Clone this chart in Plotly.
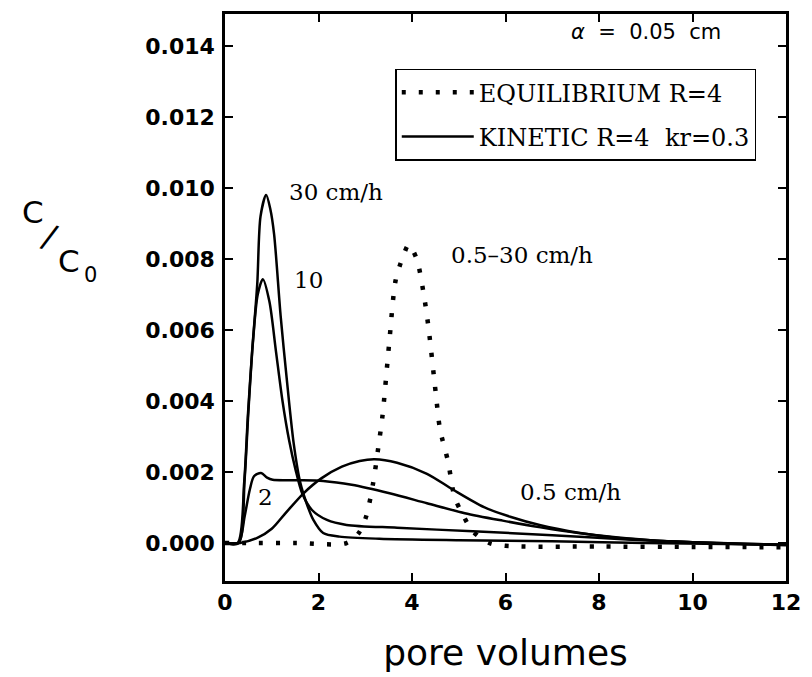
import plotly.graph_objects as go

# ---- data ----
eq_x = [0, 0.7, 1.5, 2.6, 2.86, 3.02, 3.17, 3.28, 3.37, 3.51, 3.65, 3.79, 3.93, 4.1, 4.24, 4.35, 4.51, 4.6, 4.77, 4.91, 5.07, 5.3, 5.65, 6.0, 8.0, 10.0, 12.0]
eq_y = [0, 0, 0, 0, 0.00028, 0.00075, 0.0017, 0.0027, 0.0036, 0.0056, 0.0074, 0.0080, 0.0084, 0.0080, 0.0071, 0.0061, 0.0042, 0.0032, 0.0023, 0.0013, 0.00084, 0.00033, 0.0, -0.00008, -0.0001, -0.00011, -0.00012]

k30_x = [0, 0.27, 0.41, 0.49, 0.58, 0.69, 0.76, 0.88, 0.97, 1.05, 1.19, 1.33, 1.47, 1.61, 1.75, 1.89, 2.1, 2.45, 3.3, 5.0, 7.0, 9.0, 12.0]
k30_y = [0, 0, 0.0017, 0.0036, 0.0054, 0.0073, 0.0092, 0.0098, 0.0094, 0.0087, 0.0064, 0.0045, 0.0028, 0.0017, 0.0011, 0.00065, 0.00028, 0.00018, 0.00012, 0.00008, 0.00005, 0.0, -0.00005]

k10_x = [0, 0.29, 0.42, 0.5, 0.6, 0.7, 0.81, 0.95, 1.09, 1.23, 1.37, 1.51, 1.65, 1.86, 2.18, 2.6, 3.68, 5.3, 7.0, 8.6, 10.0, 12.0]
k10_y = [0, 0, 0.0018, 0.0037, 0.0057, 0.0070, 0.00743, 0.0068, 0.0054, 0.0040, 0.0029, 0.00206, 0.0014, 0.00093, 0.00065, 0.00051, 0.00043, 0.00033, 0.00022, 0.0001, 0.00002, -0.00005]

k2_x = [0, 0.29, 0.42, 0.53, 0.62, 0.77, 0.9, 1.02, 1.54, 2.1, 2.71, 3.52, 4.32, 5.13, 5.94, 6.75, 7.56, 8.36, 9.17, 10.0, 11.0, 12.0]
k2_y = [0, 0, 0.00075, 0.0015, 0.00188, 0.00197, 0.00184, 0.00178, 0.00177, 0.00175, 0.00164, 0.0014, 0.00112, 0.00084, 0.00063, 0.00044, 0.00028, 0.00016, 0.00007, 0.00002, -0.00002, -0.00005]

k05_x = [0, 0.32, 0.7, 1.0, 1.3, 1.68, 2.06, 2.5, 2.88, 3.2, 3.68, 4.32, 4.88, 5.54, 6.1, 6.75, 7.56, 8.36, 9.17, 10.0, 11.0, 12.0]
k05_y = [0, 0, 0.00015, 0.0004, 0.00085, 0.0014, 0.00182, 0.00215, 0.00231, 0.00236, 0.00226, 0.00195, 0.0015, 0.00101, 0.00074, 0.0005, 0.00029, 0.00015, 0.00007, 0.00002, -0.00003, -0.00006]

x_ticks = [0, 2, 4, 6, 8, 10, 12]
y_ticks = [0.000, 0.002, 0.004, 0.006, 0.008, 0.010, 0.012, 0.014]

# ---- figure ----
fig = go.Figure()
line_kw = dict(color="black", width=2.5, shape="spline", smoothing=0.8)

fig.add_trace(go.Scatter(x=eq_x, y=eq_y, mode="lines", name="EQUILIBRIUM\u00a0R=4",
                         legendgroup="eq",
                         line=dict(color="black", width=4.5, dash="4px,13px", shape="spline", smoothing=0.8)))
fig.add_trace(go.Scatter(x=k30_x, y=k30_y, mode="lines", name="KINETIC\u00a0R=4\u00a0\u00a0kr=0.3",
                         legendgroup="kin", line=line_kw))
fig.add_trace(go.Scatter(x=k10_x, y=k10_y, mode="lines", name="10 cm/h", showlegend=False,
                         legendgroup="kin", line=line_kw))
fig.add_trace(go.Scatter(x=k2_x, y=k2_y, mode="lines", name="2 cm/h", showlegend=False,
                         legendgroup="kin", line=line_kw))
fig.add_trace(go.Scatter(x=k05_x, y=k05_y, mode="lines", name="0.5 cm/h", showlegend=False,
                         legendgroup="kin", line=line_kw))

tick_font = dict(family="DejaVu Sans", size=22, color="black", weight="bold")
axis_common = dict(showline=True, linewidth=2.5, linecolor="black", mirror="ticks",
                   ticks="inside", ticklen=8, tickwidth=1.5, tickcolor="black",
                   showgrid=False, zeroline=False, tickfont=tick_font)

fig.update_xaxes(range=[0, 12], tickvals=x_ticks, ticktext=[str(v) for v in x_ticks],
                 title=dict(text="pore volumes", font=dict(family="DejaVu Sans", size=36, color="black"),
                            standoff=26),
                 **axis_common)
fig.update_yaxes(range=[-0.00107, 0.0149], tickvals=y_ticks,
                 ticktext=[f"{v:.3f}" for v in y_ticks], ticklabelstandoff=3, **axis_common)

serif = dict(family="DejaVu Serif", size=23, color="black")
labels = [
    ("30\u00a0cm/h", 2.37, 0.0099),
    ("10", 1.79, 0.0074),
    ("2", 0.86, 0.0013),
    ("0.5\u201330\u00a0cm/h", 6.35, 0.0081),
    ("0.5\u00a0cm/h", 7.4, 0.00143),
]
for txt, xx, yy in labels:
    fig.add_annotation(x=xx, y=yy, xref="x", yref="y", text=txt, showarrow=False,
                       font=serif, xanchor="center", yanchor="middle")

fig.add_annotation(x=9.0, y=0.0144, xref="x", yref="y",
                   text="<i>\u03b1</i>\u00a0\u00a0=\u00a0\u00a00.05\u00a0\u00a0cm", showarrow=False,
                   font=dict(family="DejaVu Sans", size=21, color="black"),
                   xanchor="center", yanchor="middle")

# y-axis title C/C0 (diagonal arrangement)
def px2paper_x(px):
    return (px - 225) / 570.0

def px2paper_y(py):
    return (581 - py) / 570.0

yt_font = dict(family="DejaVu Sans", size=31, color="black")
fig.add_annotation(x=px2paper_x(30), y=px2paper_y(210), xref="paper", yref="paper", text="C",
                   showarrow=False, font=yt_font, xanchor="center", yanchor="middle")
fig.add_annotation(x=px2paper_x(47), y=px2paper_y(235), xref="paper", yref="paper", text="/",
                   showarrow=False, font=dict(family="DejaVu Sans", size=33, color="black"),
                   xanchor="center", yanchor="middle", textangle=20)
fig.add_annotation(x=px2paper_x(67), y=px2paper_y(259), xref="paper", yref="paper", text="C",
                   showarrow=False, font=yt_font, xanchor="center", yanchor="middle")
fig.add_annotation(x=px2paper_x(88), y=px2paper_y(273), xref="paper", yref="paper", text="0",
                   showarrow=False, font=dict(family="DejaVu Sans", size=21, color="black"),
                   xanchor="center", yanchor="middle")

fig.update_layout(
    width=812, height=677,
    margin=dict(l=225, r=17, t=11, b=96),
    paper_bgcolor="white", plot_bgcolor="white",
    showlegend=True,
    legend=dict(x=px2paper_x(398), y=px2paper_y(66), xanchor="left", yanchor="top",
                bgcolor="white", bordercolor="black", borderwidth=1.5,
                font=dict(family="DejaVu Serif", size=24, color="black"),
                traceorder="grouped", tracegroupgap=10, itemwidth=72),
)

fig.write_html("out.html")
